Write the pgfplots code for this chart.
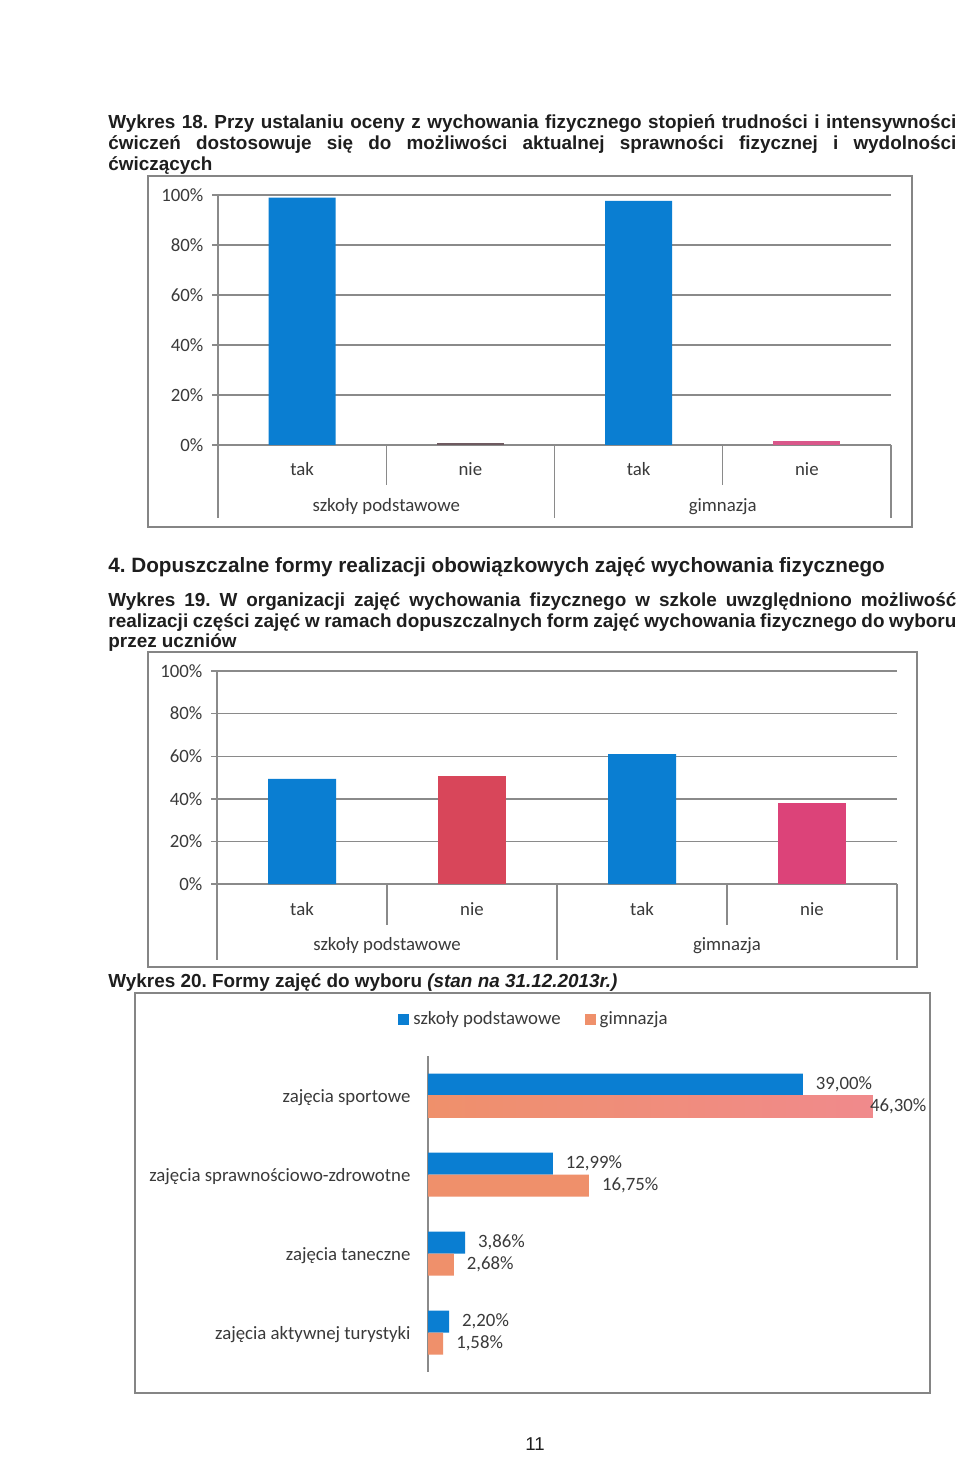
\documentclass[border=0pt]{standalone}
\usepackage{pgfplots}
\pgfplotsset{compat=1.18}
\usepackage{fontspec}
\setmainfont{Liberation Sans}
\newfontfamily\calib{Carlito}
\definecolor{cblue}{HTML}{0A7ED2}
\definecolor{cred}{HTML}{D8465A}
\definecolor{cpink}{HTML}{DC4379}
\definecolor{cdark}{HTML}{6E5A60}
\definecolor{cpinka}{HTML}{D9578A}
\definecolor{corange}{HTML}{EF906B}
\definecolor{cpinkor}{HTML}{F08A8C}
\definecolor{cgrid}{HTML}{8A8A8A}
\definecolor{cframe}{HTML}{858585}
\definecolor{ctext}{HTML}{1E1E1E}
\definecolor{clab}{HTML}{3A3A3A}
\newcommand\chf{\calib\fontsize{9.4}{11}\selectfont}
\newcommand\tf{\bfseries\fontsize{9.45}{11}\selectfont}
\frenchspacing
\pgfplotsset{
  colchart/.style={
    scale only axis, ybar, bar shift=0pt, clip=false,
    xmin=-0.5, xmax=3.5, ymin=0, ymax=100,
    xtick={0,1,2,3}, xticklabels={tak,nie,tak,nie},
    ytick={0,20,40,60,80,100}, yticklabels={0\%,20\%,40\%,60\%,80\%,100\%},
    axis x line*=bottom, axis y line*=left,
    axis line style={-, cgrid, line width=0.7pt},
    ymajorgrids, grid style={cgrid, line width=0.7pt},
    major tick length=3pt, xtick style={draw=none}, ytick style={cgrid, line width=0.7pt},
    tick align=outside,
    ticklabel style={font=\chf, text=clab},
    yticklabel style={xshift=-0.8pt},
  }
}
\begin{document}
\begin{tikzpicture}
\begin{scope}[x=0.5pt,y=-0.5pt]
\path[use as bounding box, fill=white] (0,0) rectangle (960,1459);
% ---- texts
\node[anchor=base west, inner sep=0pt, text=ctext, font=\tf] at (108,129) {\makebox[424pt][s]{Wykres 18. Przy ustalaniu oceny z wychowania fizycznego stopień trudności i intensywności}};
\node[anchor=base west, inner sep=0pt, text=ctext, font=\tf] at (108,150) {\makebox[424pt][s]{ćwiczeń dostosowuje się do możliwości aktualnej sprawności fizycznej i wydolności}};
\node[anchor=base west, inner sep=0pt, text=ctext, font=\tf] at (108,171) {ćwiczących};
\node[anchor=base west, inner sep=0pt, text=ctext, font=\bfseries\fontsize{10.35}{12}\selectfont] at (108,572) {4. Dopuszczalne formy realizacji obowiązkowych zajęć wychowania fizycznego};
\node[anchor=base west, inner sep=0pt, text=ctext, font=\tf] at (108,606) {\makebox[424pt][s]{Wykres 19. W organizacji zajęć wychowania fizycznego w szkole uwzględniono możliwość}};
\node[anchor=base west, inner sep=0pt, text=ctext, font=\tf] at (108,627) {\makebox[424pt][s]{realizacji części zajęć w ramach dopuszczalnych form zajęć wychowania fizycznego do wyboru}};
\node[anchor=base west, inner sep=0pt, text=ctext, font=\tf] at (108,647) {przez uczniów};
\node[anchor=base west, inner sep=0pt, text=ctext, font=\tf] at (108,987) {Wykres 20. Formy zajęć do wyboru \textit{(stan na 31.12.2013r.)}};
\node[anchor=base, inner sep=0pt, text=ctext, font=\fontsize{9.3}{11}\selectfont] at (535,1450) {11};
% ---- frames
\draw[cframe, line width=0.6pt] (148,176) rectangle (912,527);
\draw[cframe, line width=0.6pt] (148,652) rectangle (917,967);
\draw[cframe, line width=0.6pt] (135,993) rectangle (930,1393);
\end{scope}
% ---- chart 1
\begin{axis}[colchart, at={(109pt,-222.5pt)}, anchor=south west, width=336.5pt, height=125pt, bar width=33.5pt,
  xticklabel style={anchor=center, yshift=-9pt}]
\addplot[fill=cblue, draw=none] coordinates {(0,98.9) (2,97.6)};
\addplot[fill=cdark, draw=none] coordinates {(1,0.6)};
\addplot[fill=cpinka, draw=none] coordinates {(3,1.5)};
\draw[cgrid, line width=0.7pt] (axis cs:-0.5,0) -- ++(0pt,-36.5pt) (axis cs:1.5,0) -- ++(0pt,-36.5pt) (axis cs:3.5,0) -- ++(0pt,-36.5pt) (axis cs:0.5,0) -- ++(0pt,-20pt) (axis cs:2.5,0) -- ++(0pt,-20pt);
\node[font=\chf, text=clab, yshift=-30.5pt] at (axis cs:0.5,0) {szkoły podstawowe};
\node[font=\chf, text=clab, yshift=-31pt] at (axis cs:2.5,0) {gimnazja};
\end{axis}
% ---- chart 2
\begin{axis}[colchart, at={(108.5pt,-442pt)}, anchor=south west, width=340pt, height=106.5pt, bar width=34pt,
  xticklabel style={anchor=center, yshift=-9.5pt}]
\addplot[fill=cblue, draw=none] coordinates {(0,49.3) (2,61.0)};
\addplot[fill=cred, draw=none] coordinates {(1,50.5)};
\addplot[fill=cpink, draw=none] coordinates {(3,38.2)};
\draw[cgrid, line width=0.7pt] (axis cs:-0.5,0) -- ++(0pt,-38pt) (axis cs:1.5,0) -- ++(0pt,-38pt) (axis cs:3.5,0) -- ++(0pt,-38pt) (axis cs:0.5,0) -- ++(0pt,-20.5pt) (axis cs:2.5,0) -- ++(0pt,-20.5pt);
\node[font=\chf, text=clab, yshift=-30.5pt] at (axis cs:0.5,0) {szkoły podstawowe};
\node[font=\chf, text=clab, yshift=-31pt] at (axis cs:2.5,0) {gimnazja};
\end{axis}
% ---- chart 3
\begin{axis}[scale only axis, at={(214pt,-686pt)}, anchor=south west, width=240.25pt, height=158pt,
  xbar, bar width=11pt, xmin=0, xmax=50, ymin=-0.5, ymax=3.5, y dir=reverse, clip=false,
  axis x line=none, axis y line*=left, axis line style={-, cgrid, line width=0.7pt},
  ytick={0,1,2,3},
  yticklabels={zajęcia sportowe, zajęcia sprawnościowo-zdrowotne, zajęcia taneczne, zajęcia aktywnej turystyki},
  ytick style={draw=none}, yticklabel style={font=\chf, text=clab, xshift=-1pt, yshift=-1pt},
  nodes near coords, point meta=explicit symbolic,
  every node near coord/.append style={font=\chf, text=clab, anchor=west, xshift=3pt},
  legend style={at={(0.2227,1.115)}, anchor=center, draw=none, fill=none, font=\chf, text=clab,
    /tikz/every even column/.append style={column sep=10pt}},
  legend columns=2,
  legend image code/.code={\fill[#1] (0pt,-2.75pt) rectangle (5.5pt,2.75pt);},
]
\addplot[fill=cblue, draw=none, bar shift=5.5pt] coordinates {(39,0) [39,00\%] (12.99,1) [12,99\%] (3.86,2) [3,86\%] (2.2,3) [2,20\%]};
\addplot[fill=corange, draw=none, bar shift=-5.5pt] coordinates {(16.75,1) [16,75\%] (2.68,2) [2,68\%] (1.58,3) [1,58\%]};
\addplot[forget plot, draw=none, bar shift=-5.5pt, left color=corange, middle color=corange, right color=cpinkor] coordinates {(46.3,0) [\hspace*{-8pt}46,30\%]};
\legend{szkoły podstawowe, gimnazja}
\end{axis}
\end{tikzpicture}
\end{document}
